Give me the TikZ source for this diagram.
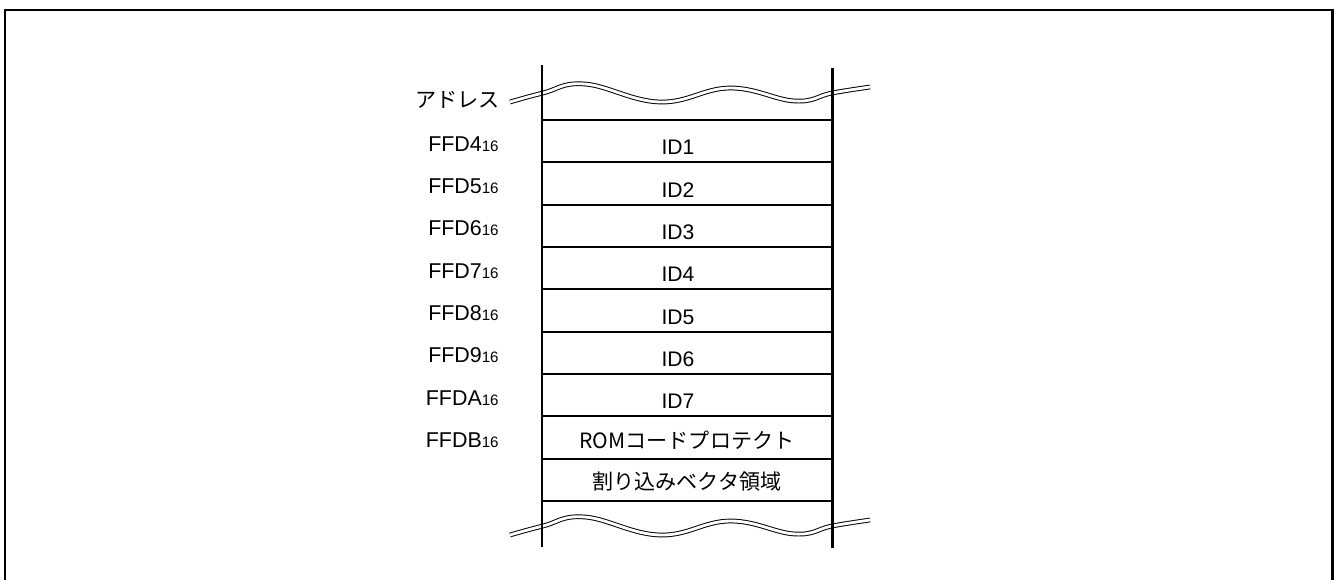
\documentclass[tikz,border=0pt]{standalone}
\usepackage{fontspec}
\setmainfont{Liberation Sans}
\newfontfamily\jpfont{Noto Sans CJK JP}
\usetikzlibrary{positioning}
\tikzset{
  line cap=butt,
  frame/.style={line width=1.4pt},
  wall/.style={line width=1.7pt},
  divider/.style={line width=1.1pt},
  breakline/.style={double, double distance=1.6pt, line width=0.55pt},
  addr/.style={anchor=base east, inner sep=0pt, font=\fontsize{12.2}{13}\selectfont},
  idtext/.style={anchor=base, inner sep=0pt, font=\fontsize{12}{13}\selectfont},
  jptext/.style={inner sep=0pt, font=\jpfont\fontsize{12}{12}\selectfont}
}
\newcommand{\hexsub}[1]{#1{\fontsize{8.6}{9}\selectfont 16}}

\begin{document}
\begin{tikzpicture}[x=0.02cm, y=-0.02cm]
\useasboundingbox (0,0) rectangle (1336,579);

% 外枠
\draw[frame] (5,10) rectangle (1332.5,600);

% 区切り線
\foreach \i in {0,...,9}
  \draw[divider] (542,{120+42.33*\i}) -- (832,{120+42.33*\i});

% 省略線
\foreach \dy in {0,433}
  \draw[breakline, shift={(0,\dy)}] plot[smooth, tension=0.7] coordinates
    {(510,102) (543,93) (585,84) (660,102) (730,88) (795,101) (832,93) (870,87)};

% メモリの縦線
\coordinate (lefttop) at (542,65);
\coordinate (leftbot) at (542,547);
\coordinate (righttop) at (832,68);
\coordinate (rightbot) at (832,548);
\draw[wall] (lefttop) -- (leftbot);
\draw[wall] (righttop) -- (rightbot);

% アドレス
\node[jptext, anchor=east] (title) at (500,100) {アドレス};
\foreach \a [count=\i from 0] in {4,5,6,7,8,9,A,B}
  \node[addr] (addr\a) at (499,{151.2+42.33*\i}) {\hexsub{FFD\a}};

% 内容
\foreach \i in {1,...,7}
  \node[idtext] (id\i) at (678,{154.7+42.33*(\i-1)}) {ID\i};
\node[jptext] (rom) at (687,440) {ROMコードプロテクト};
\node[jptext] (vect) at (687,482) {割り込みベクタ領域};

\end{tikzpicture}
\end{document}
